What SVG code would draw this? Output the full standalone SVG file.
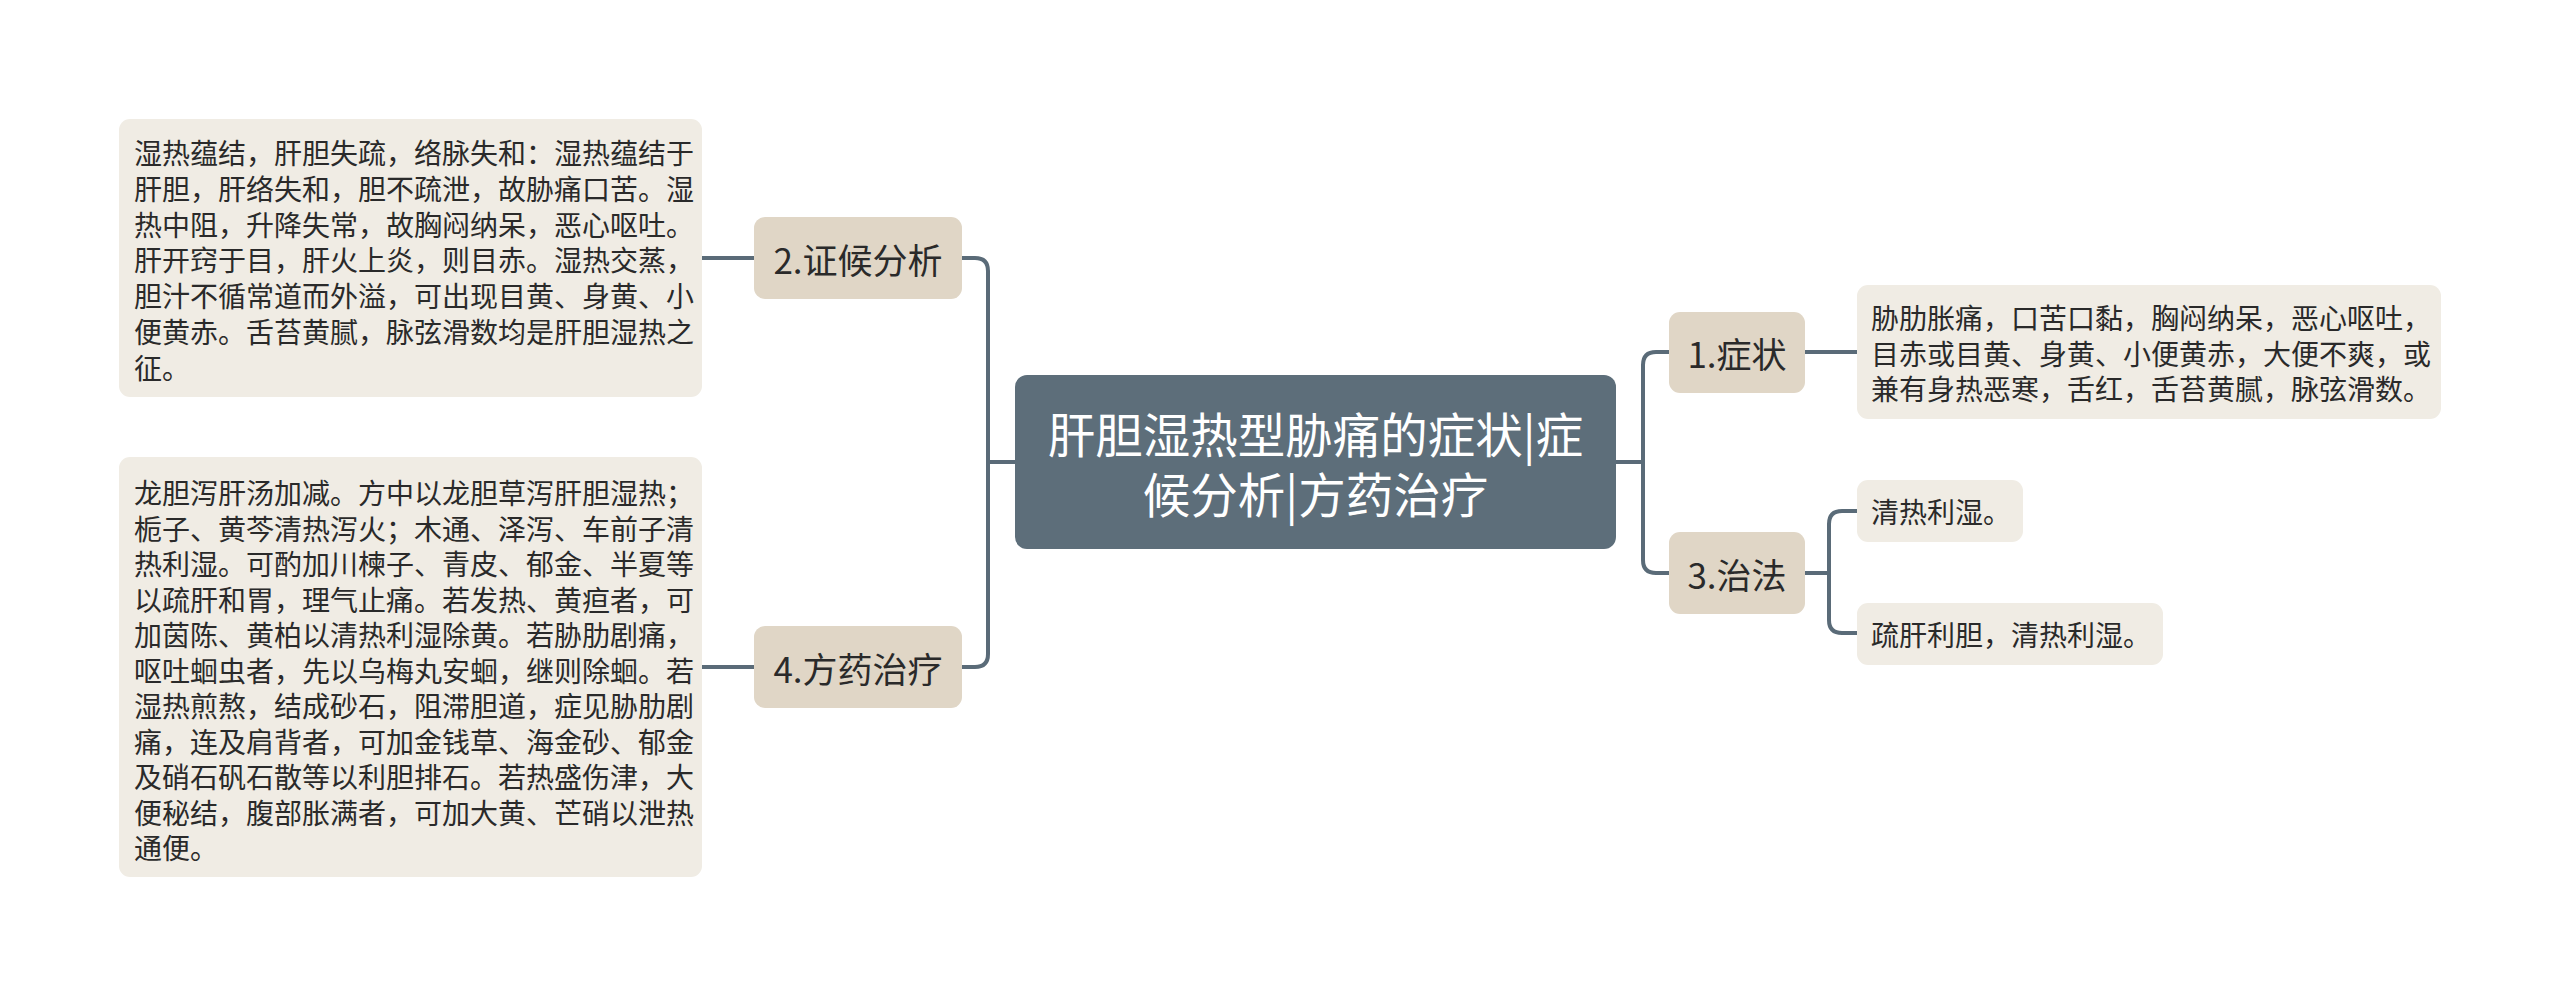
<svg xmlns="http://www.w3.org/2000/svg" width="2560" height="997" viewBox="0 0 2560 997">
<style>
text{font-family:"Noto Sans CJK SC","Noto Sans",sans-serif;dominant-baseline:central}
.root rect{fill:#5d6e7a}
.root text{fill:#ffffff;font-size:47.5px;text-anchor:middle}
.cat rect{fill:#e0d6c6}
.cat text{fill:#2a2a2a;font-size:35px;text-anchor:middle}
.leaf rect{fill:#f0ece4}
.leaf text{fill:#2a2a2a;font-size:28px}
.conn path{fill:none;stroke:#5a6b78;stroke-width:4;stroke-linecap:butt}
</style>
<rect width="2560" height="997" fill="#ffffff"/>
<g class="conn" id="connectors">
<path d="M1015,462 H988"/>
<path d="M962,258 H975 Q988,258 988,271 V654 Q988,667 975,667 H962"/>
<path d="M754,258 H702"/>
<path d="M754,667 H702"/>
<path d="M1616,462 H1643"/>
<path d="M1669,352 H1656 Q1643,352 1643,365 V560 Q1643,573 1656,573 H1669"/>
<path d="M1805,352 H1857"/>
<path d="M1805,573 H1829"/>
<path d="M1857,511 H1842 Q1829,511 1829,524 V620 Q1829,633 1842,633 H1857"/>
</g>
<g class="root" id="root">
<rect x="1015" y="375" width="601" height="174" rx="12"/>
<text x="1315.5" y="432">肝胆湿热型胁痛的症状|症</text>
<text x="1315.5" y="492">候分析|方药治疗</text>
</g>
<g class="cat" id="n2">
<rect x="754" y="217" width="208" height="82" rx="11"/>
<text x="858" y="258">2.证候分析</text>
</g>
<g class="cat" id="n4">
<rect x="754" y="626" width="208" height="82" rx="11"/>
<text x="858" y="667">4.方药治疗</text>
</g>
<g class="cat" id="n1">
<rect x="1669" y="312" width="136" height="81" rx="11"/>
<text x="1737" y="352">1.症状</text>
</g>
<g class="cat" id="n3">
<rect x="1669" y="532" width="136" height="82" rx="11"/>
<text x="1737" y="573">3.治法</text>
</g>
<g class="leaf" id="d2">
<rect x="119" y="119" width="583" height="278" rx="11"/>
<text x="134" y="152">湿热蕴结，肝胆失疏，络脉失和：湿热蕴结于</text>
<text x="134" y="187.8">肝胆，肝络失和，胆不疏泄，故胁痛口苦。湿</text>
<text x="134" y="223.6">热中阻，升降失常，故胸闷纳呆，恶心呕吐。</text>
<text x="134" y="259.4">肝开窍于目，肝火上炎，则目赤。湿热交蒸，</text>
<text x="134" y="295.2">胆汁不循常道而外溢，可出现目黄、身黄、小</text>
<text x="134" y="331">便黄赤。舌苔黄腻，脉弦滑数均是肝胆湿热之</text>
<text x="134" y="366.8">征。</text>
</g>
<g class="leaf" id="d4">
<rect x="119" y="457" width="583" height="420" rx="11"/>
<text x="134" y="492">龙胆泻肝汤加减。方中以龙胆草泻肝胆湿热；</text>
<text x="134" y="527.5">栀子、黄芩清热泻火；木通、泽泻、车前子清</text>
<text x="134" y="563">热利湿。可酌加川楝子、青皮、郁金、半夏等</text>
<text x="134" y="598.5">以疏肝和胃，理气止痛。若发热、黄疸者，可</text>
<text x="134" y="634">加茵陈、黄柏以清热利湿除黄。若胁肋剧痛，</text>
<text x="134" y="669.5">呕吐蛔虫者，先以乌梅丸安蛔，继则除蛔。若</text>
<text x="134" y="705">湿热煎熬，结成砂石，阻滞胆道，症见胁肋剧</text>
<text x="134" y="740.5">痛，连及肩背者，可加金钱草、海金砂、郁金</text>
<text x="134" y="776">及硝石矾石散等以利胆排石。若热盛伤津，大</text>
<text x="134" y="811.5">便秘结，腹部胀满者，可加大黄、芒硝以泄热</text>
<text x="134" y="847">通便。</text>
</g>
<g class="leaf" id="d1">
<rect x="1857" y="285" width="584" height="134" rx="11"/>
<text x="1871" y="317">胁肋胀痛，口苦口黏，胸闷纳呆，恶心呕吐，</text>
<text x="1871" y="352.5">目赤或目黄、身黄、小便黄赤，大便不爽，或</text>
<text x="1871" y="388">兼有身热恶寒，舌红，舌苔黄腻，脉弦滑数。</text>
</g>
<g class="leaf" id="d3a">
<rect x="1857" y="480" width="166" height="62" rx="11"/>
<text x="1871" y="511">清热利湿。</text>
</g>
<g class="leaf" id="d3b">
<rect x="1857" y="603" width="306" height="62" rx="11"/>
<text x="1871" y="634">疏肝利胆，清热利湿。</text>
</g>
</svg>
